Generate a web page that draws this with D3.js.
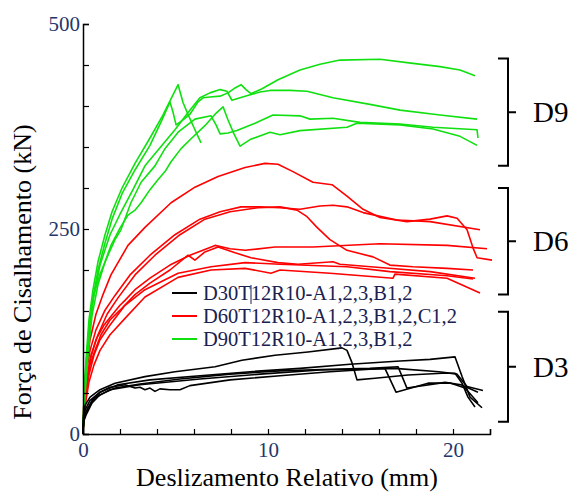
<!DOCTYPE html>
<html>
<head>
<meta charset="utf-8">
<script src="https://cdn.jsdelivr.net/npm/d3@7"></script>
<style>
  body { margin: 0; background: #fff; }
  svg { display: block; }
</style>
</head>
<body>
<div id="chart"></div>
<script>
// slip (mm), force (kN) pairs
const blackCurves = [
  [[0,0],[0.03,23],[0.11,35],[0.38,45],[0.92,54],[1.73,62],[3.35,70],[4.97,76],[7.14,82],[8.59,90],[10.38,96],[12.16,100],[14.0,105],[14.27,102],[14.54,87],[14.81,66],[15.78,68],[17.57,72],[19.41,74],[20.11,74],[20.49,62],[20.81,45],[21.19,33]],
  [[0,0],[0.03,20],[0.11,29],[0.38,41],[0.92,51],[1.89,60],[3.62,66],[6.32,71],[9.03,76],[11.73,80],[14.43,85],[17.14,89],[18.76,91],[20.11,94],[20.49,70],[20.92,45],[21.57,32]],
  [[0,0],[0.03,17],[0.16,27],[0.49,41],[0.92,51],[1.46,57],[2.27,60],[2.81,56],[3.08,57],[3.35,54],[3.62,56],[3.89,52],[4.16,55],[4.70,54],[5.24,54],[5.78,59],[7.95,66],[10.65,71],[13.35,76],[15.51,79],[16.32,80],[16.92,51],[18.65,62],[19.89,62],[20.65,56],[21.35,38]],
  [[0,0],[0.03,15],[0.16,23],[0.49,38],[0.92,48],[1.73,56],[3.08,61],[5.24,67],[7.95,73],[10.65,77],[13.35,79],[15.51,80],[17.03,82],[17.51,56],[19.57,63],[20.43,60],[21.35,51]],
  [[0,0],[0.05,18],[0.27,32],[0.65,44],[1.46,54],[3.08,60],[6.32,67],[9.57,73],[12.81,78],[14.97,79],[16.86,80],[19.24,76],[20.22,73],[20.76,58],[21.62,53]]
];

const redCurves = [
  [[0,0],[0.05,41],[0.16,78],[0.38,115],[0.70,146],[1.08,170],[1.51,194],[2.43,230],[3.35,252],[4.76,282],[6.05,301],[7.30,314],[8.76,325],[9.84,330],[10.54,329],[11.35,320],[12.43,307],[13.46,304],[14.27,290],[15.14,274],[16.05,264],[17.51,259],[18.76,262],[19.68,266],[20.22,263],[20.76,249],[21.08,227],[21.30,215],[22.11,212]],
  [[0,0],[0.05,41],[0.16,72],[0.38,102],[0.70,127],[1.19,151],[1.73,169],[2.54,194],[3.62,218],[4.97,243],[6.32,262],[7.41,271],[8.54,277],[9.57,277],[10.65,276],[11.73,274],[12.81,278],[13.51,279],[14.27,277],[15.14,270],[16.97,261],[18.76,259],[21.46,249]],
  [[0,0],[0.05,35],[0.22,66],[0.43,96],[0.81,121],[1.30,146],[1.89,166],[2.81,194],[3.89,218],[5.24,243],[6.59,262],[7.95,271],[9.46,276],[10.65,277],[11.57,273],[12.11,265],[12.65,252],[13.35,237],[14.27,224],[15.68,216],[16.59,206],[17.84,204],[19.68,202],[21.08,200]],
  [[0,0],[0.05,29],[0.16,60],[0.38,90],[0.70,115],[1.14,133],[1.57,145],[2.0,157],[2.27,163],[2.81,176],[3.62,190],[4.70,206],[5.78,218],[7.14,230],[7.95,226],[8.76,224],[10.38,228],[12.43,228],[16.05,232],[19.68,230],[21.84,226]],
  [[0,0],[0.05,27],[0.16,54],[0.38,84],[0.65,102],[0.97,121],[1.46,139],[2.0,151],[2.81,170],[3.62,184],[4.70,200],[5.68,218],[6.05,212],[6.59,222],[7.30,228],[8.22,221],[9.08,215],[10.54,209],[11.62,207],[13.51,210],[13.89,207],[16.05,203],[18.76,198],[21.19,190]],
  [[0,0],[0.05,23],[0.16,48],[0.32,72],[0.59,96],[0.92,115],[1.46,133],[2.27,157],[3.35,176],[5.14,196],[6.92,204],[8.76,209],[10.65,207],[14.27,204],[16.59,198],[19.68,193],[21.08,189]],
  [[0,0],[0.05,20],[0.16,41],[0.32,63],[0.59,84],[0.92,102],[1.46,121],[2.27,141],[3.35,167],[5.14,191],[6.92,200],[8.76,202],[10.16,196],[10.65,200],[13.35,196],[16.76,190],[16.86,195],[19.68,190],[21.46,172]]
];

const greenCurves = [
  [[0,0],[0.05,41],[0.16,90],[0.32,139],[0.54,176],[0.81,210],[1.19,243],[1.57,271],[2.11,300],[2.81,330],[3.62,361],[4.32,389],[4.81,411],[5.14,426],[5.41,404],[5.73,387],[6.05,371],[6.38,355]],
  [[0,0],[0.05,35],[0.16,78],[0.32,127],[0.54,166],[0.81,200],[1.19,233],[1.57,262],[2.11,293],[2.81,322],[3.62,352],[4.27,383],[4.70,405],[4.86,393],[5.03,377],[5.41,383],[5.78,390],[6.22,405],[6.49,410],[6.86,411],[7.41,412],[7.84,416],[8.22,422],[8.54,426],[8.81,420],[9.08,415],[9.68,421],[10.54,432],[11.73,444],[12.81,451],[13.89,456],[16.05,457],[17.84,452],[19.30,448],[20.38,444],[21.19,437]],
  [[0,0],[0.11,54],[0.27,107],[0.54,163],[0.92,206],[1.46,243],[2.0,268],[2.7,298],[3.35,327],[4.16,349],[4.97,371],[5.68,392],[6.32,410],[6.86,416],[7.41,420],[7.78,418],[8.05,407],[8.76,412],[9.57,417],[10.11,419],[11.19,419],[12.11,418],[13.51,410],[15.51,402],[17.14,395],[19.3,389],[21.30,384]],
  [[0,0],[0.05,41],[0.16,84],[0.32,127],[0.59,170],[0.92,195],[1.35,218],[1.73,237],[2.05,249],[2.59,282],[3.14,307],[3.89,327],[4.43,348],[5.14,368],[6.05,384],[6.92,388],[7.19,377],[7.41,366],[7.84,367],[8.32,370],[9.30,379],[10.27,389],[11.73,388],[12.27,384],[13.51,385],[14.97,380],[17.14,378],[18.92,374],[21.30,371],[21.35,361]],
  [[0,0],[0.11,48],[0.27,96],[0.49,145],[0.81,182],[1.19,210],[1.51,230],[2.0,251],[2.43,267],[2.81,273],[3.14,282],[3.62,298],[4.05,310],[4.43,320],[4.76,332],[5.30,348],[5.84,360],[6.59,376],[7.14,390],[7.57,399],[7.84,383],[8.16,366],[8.49,351],[9.03,359],[10.11,368],[10.65,365],[11.73,370],[14.27,374],[14.81,379],[17.14,377],[18.92,372],[20.38,363],[21.30,352]]
];

const legendLabels = ['D30T12R10-A1,2,3,B1,2', 'D60T12R10-A1,2,3,B1,2,C1,2', 'D90T12R10-A1,2,3,B1,2'];
const legendColors = ['#000000', '#ff0000', '#10e010'];

// force ranges covered by each bracket
const groupNames = ['D9', 'D6', 'D3'];
const groupRanges = [[327, 458], [170, 300], [15, 149]];

const xTicks = d3.range(0, 23, 2);
const yTicks = d3.range(0, 501, 50);
const xLabels = [0, 10, 20];
const yLabels = [0, 250, 500];

const W = 576, H = 493;
const serif = '"Liberation Serif", "Times New Roman", serif';
const tickColor = '#24366a';

const svg = d3.select('#chart').append('svg')
    .attr('width', W)
    .attr('height', H);

const x = d3.scaleLinear().domain([0, 22]).range([83, 490]);
const y = d3.scaleLinear().domain([0, 500]).range([434, 24]);

const line = d3.line()
    .x(d => x(d[0]))
    .y(d => y(d[1]));

const drawSet = (curves, color) => {
  svg.append('g')
    .selectAll('path')
    .data(curves)
    .join('path')
      .attr('d', line)
      .attr('fill', 'none')
      .attr('stroke', color)
      .attr('stroke-width', 1.6)
      .attr('stroke-linejoin', 'round');
};

drawSet(redCurves, legendColors[1]);
drawSet(greenCurves, legendColors[2]);
drawSet(blackCurves, legendColors[0]);

// axes, ticks pointing inside
const xAxis = d3.axisBottom(x)
    .tickValues(xTicks)
    .tickSize(-5)
    .tickPadding(8)
    .tickFormat(d => xLabels.includes(d) ? d : '');

const yAxis = d3.axisLeft(y)
    .tickValues(yTicks)
    .tickSize(-6)
    .tickPadding(3)
    .tickFormat(d => yLabels.includes(d) ? d : '');

const gx = svg.append('g')
    .attr('transform', `translate(0, ${y(0)})`)
    .call(xAxis);

const gy = svg.append('g')
    .attr('transform', `translate(${x(0)}, 0)`)
    .call(yAxis);

[gx, gy].forEach(g => {
  g.select('.domain').attr('stroke', '#000').attr('stroke-width', 1.5);
  g.selectAll('.tick line').attr('stroke', '#000').attr('stroke-width', 1.2);
  g.selectAll('.tick text')
      .style('font-family', serif)
      .style('font-size', '21px')
      .attr('fill', tickColor);
});

// axis titles
svg.append('text')
    .attr('x', 287)
    .attr('y', 486)
    .attr('text-anchor', 'middle')
    .style('font-family', serif)
    .style('font-size', '26px')
    .text('Deslizamento Relativo (mm)');

svg.append('text')
    .attr('transform', 'translate(31, 272) rotate(-90)')
    .attr('text-anchor', 'middle')
    .style('font-family', serif)
    .style('font-size', '26px')
    .text('Força de Cisalhamento (kN)');

// legend
const legend = svg.append('g').attr('transform', 'translate(172, 293)');
legendLabels.forEach((label, i) => {
  const row = legend.append('g').attr('transform', `translate(0, ${i * 23})`);
  row.append('line')
      .attr('x1', 0).attr('x2', 25)
      .attr('stroke', legendColors[i])
      .attr('stroke-width', 2);
  row.append('text')
      .attr('x', 31)
      .attr('y', 7)
      .style('font-family', serif)
      .style('font-size', '20.5px')
      .attr('fill', '#1a2150')
      .text(label);
});
// little stray cursor mark in the first legend entry
legend.append('line')
    .attr('x1', 79).attr('x2', 79)
    .attr('y1', -8).attr('y2', 11)
    .attr('stroke', '#1a2150')
    .attr('stroke-width', 1);

// group brackets on the right
const bx = 508;
groupNames.forEach((name, i) => {
  const [lo, hi] = groupRanges[i];
  const y0 = y(hi), y1 = y(lo), ym = (y0 + y1) / 2;
  svg.append('path')
      .attr('d', `M${bx - 10},${y0} L${bx},${y0} L${bx},${y1} L${bx - 10},${y1} M${bx},${ym} L${bx + 8},${ym}`)
      .attr('fill', 'none')
      .attr('stroke', '#000')
      .attr('stroke-width', 2);
  svg.append('text')
      .attr('x', 533)
      .attr('y', ym + 10)
      .style('font-family', serif)
      .style('font-size', '29px')
      .text(name);
});
</script>
</body>
</html>
